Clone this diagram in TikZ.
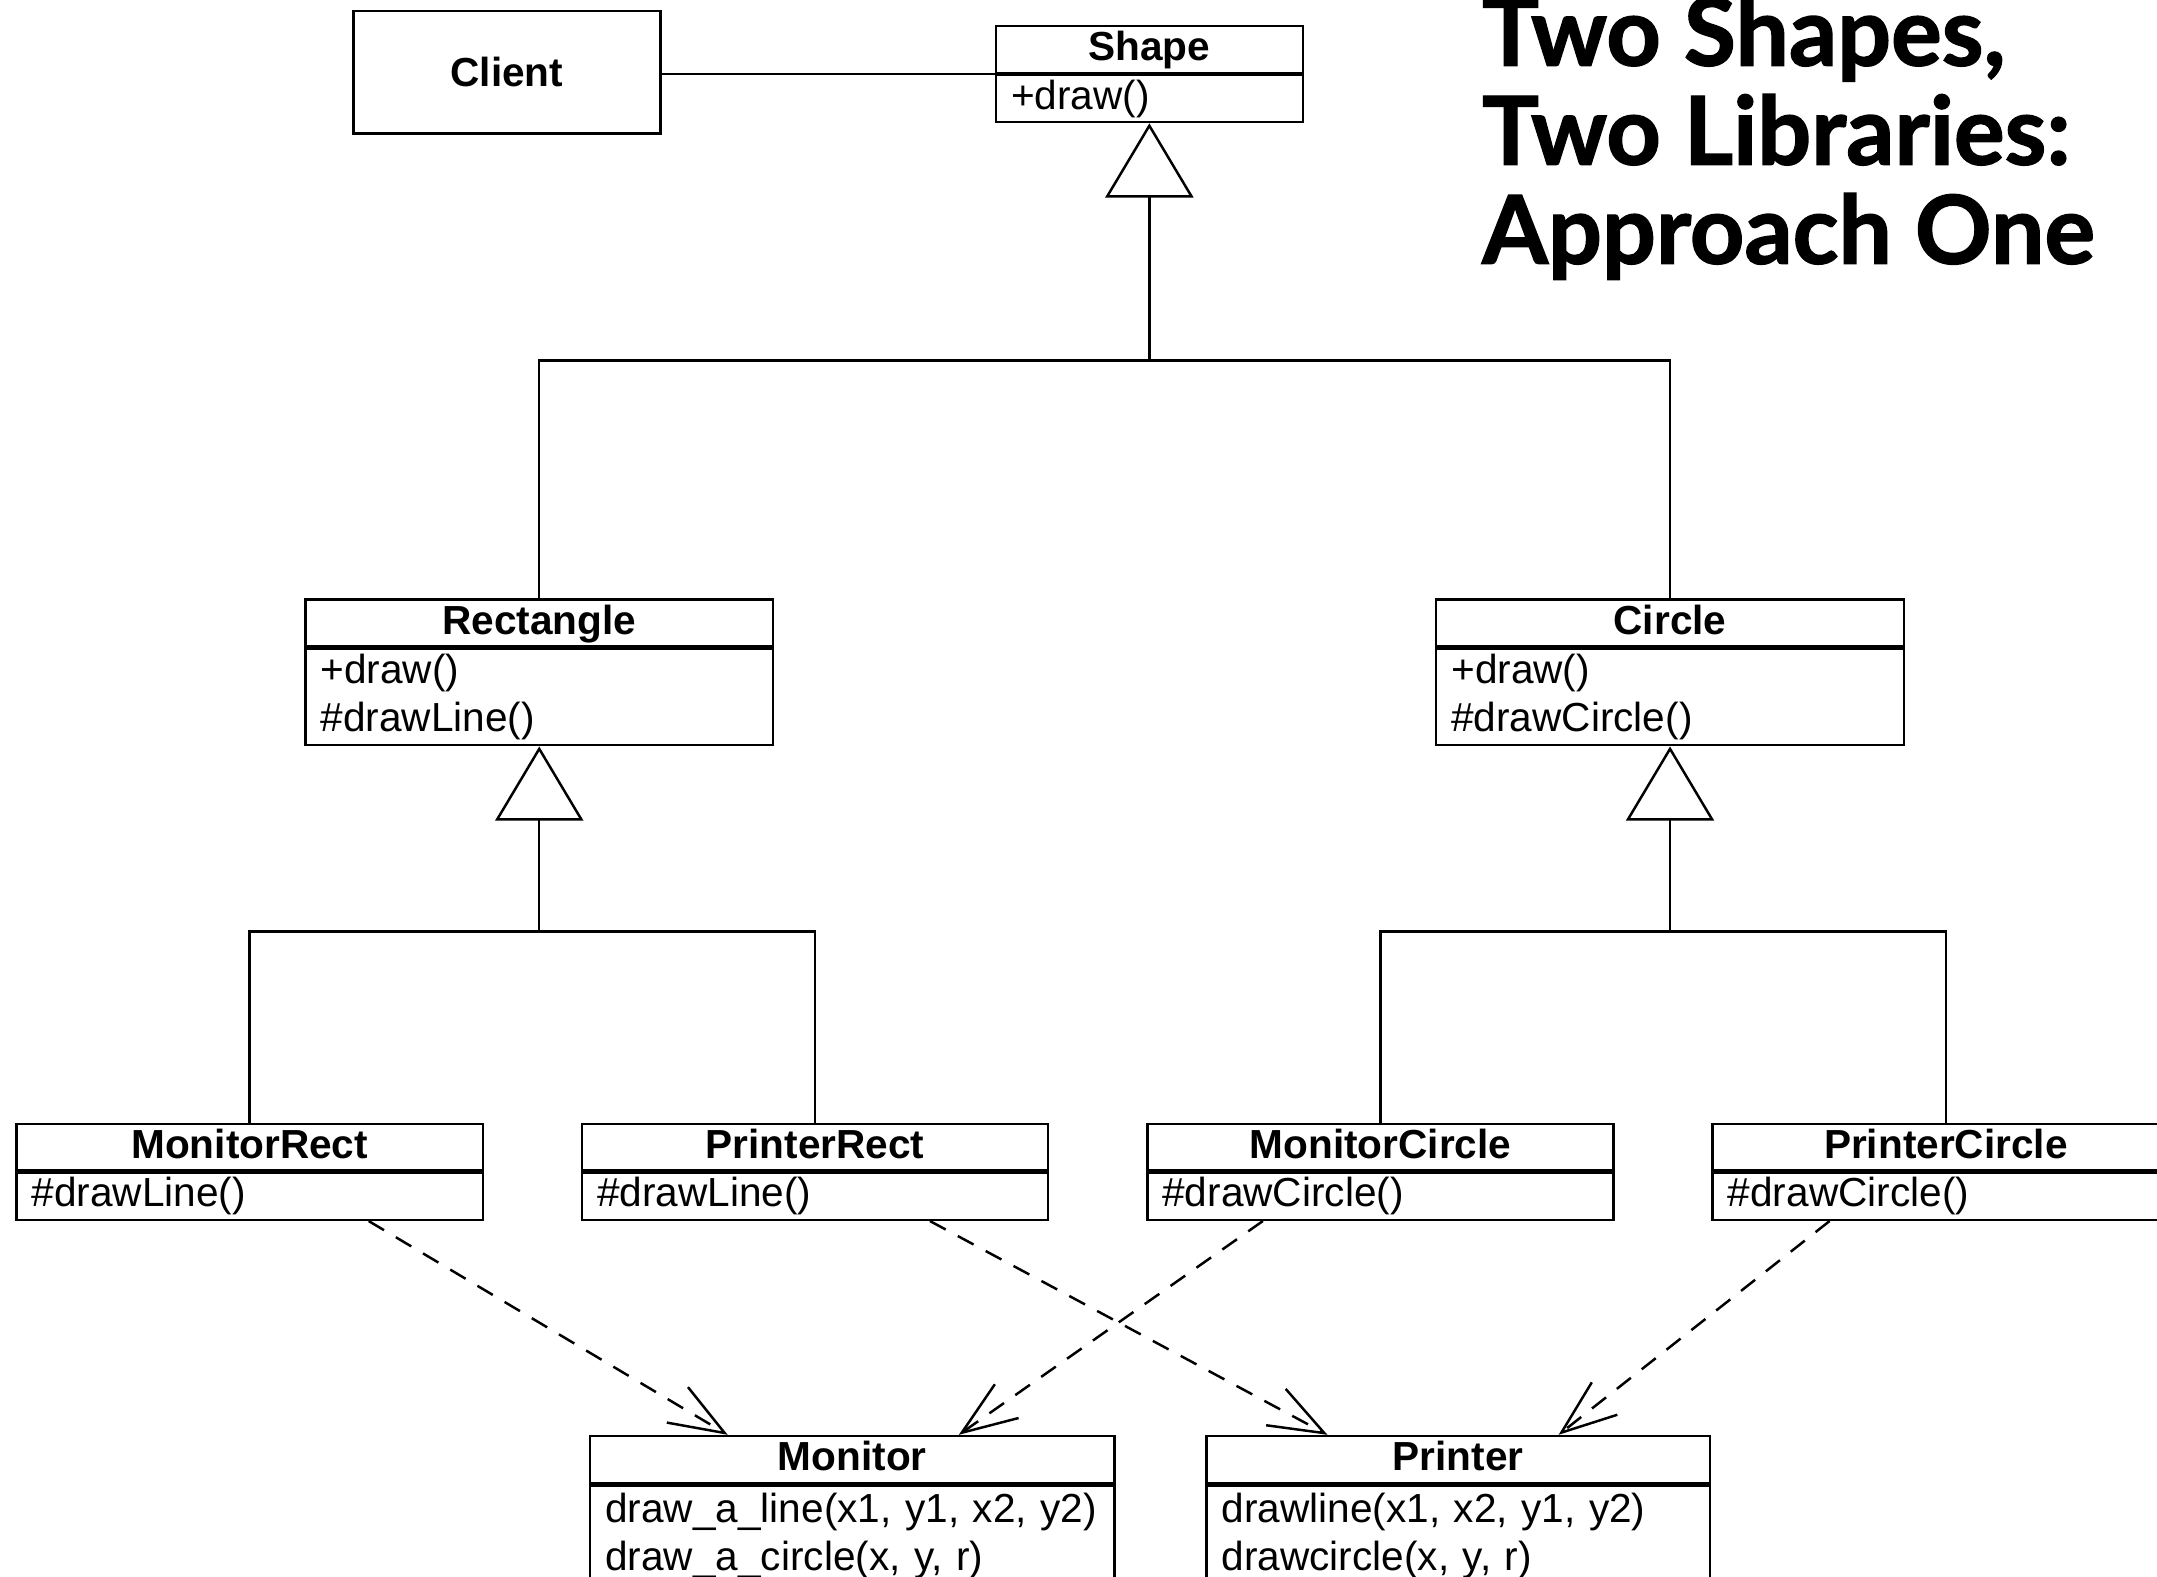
\documentclass[tikz,border=0pt]{standalone}
\usepackage{fontspec}
\setmainfont{Liberation Sans}
\newfontfamily\titlefont{Lato}[BoldFeatures={FakeBold=1.5}]
\usetikzlibrary{arrows.meta}
\usetikzlibrary{positioning}

\tikzset{
  classname/.style={draw, line width=0.9pt, anchor=north, inner sep=0pt,
    minimum width=#1, minimum height=17pt, text height=10.5pt, text depth=2.5pt,
    font=\fontsize{14.75}{17.5}\selectfont\bfseries},
  classops/.style={draw, line width=0.9pt, inner xsep=5.5pt, inner ysep=0pt,
    text width={#1-11pt}, align=left, minimum height=17pt,
    font=\fontsize{14.75}{17.5}\selectfont},
  inherit/.style={line width=0.9pt,
    -{Triangle[open,length=27pt,width=32pt,line width=0.9pt]}},
  depends/.style={line width=0.9pt, dash pattern=on 6.5pt off 5pt,
    -{Straight Barb[length=20pt,width=15pt,line width=0.9pt]}},
}

\begin{document}
\begin{tikzpicture}[x=0.5pt,y=-0.5pt]
      \useasboundingbox (0,0) rectangle (1568,1146);

      \node[anchor=north west, inner sep=0pt, align=left,
            font=\titlefont\bfseries\fontsize{34.5}{36}\selectfont] (title) at (1077,-4)
            {Two Shapes,\\Two Libraries:\\Approach One};

      \node[draw, line width=0.9pt, minimum width=111.5pt, minimum height=44.5pt,
            font=\fontsize{14.75}{17.5}\selectfont\bfseries] (client) at (368.5,52.5) {Client};

      \node[classname=111.5pt] (shape) at (835.5,18) {Shape};
      \node[classops=111.5pt, below=0pt of shape] (shapeops) {+draw()};
      \draw[line width=0.9pt] (client.east |- shape.south west) -- (shape.south west);

      % first level
      \node[classname=170pt] (rect) at (392,435) {Rectangle};
      \node[classops=170pt, minimum height=35pt, below=0pt of rect] (rectops) {+draw()\\\#drawLine()};
      \node[classname=170pt] (circ) at (1214,435) {Circle};
      \node[classops=170pt, minimum height=35pt, below=0pt of circ] (circops) {+draw()\\\#drawCircle()};

      \coordinate (shapejoin) at (835.5,262);
      \draw[line width=0.9pt] (rect.north) |- (shapejoin) -| (circ.north);
      \draw[inherit] (shapejoin) -- (shapeops.south);

      % second level
      \node[classname=169.5pt] (monrect) at (181.5,816) {MonitorRect};
      \node[classops=169.5pt, below=0pt of monrect] (monrectops) {\#drawLine()};
      \node[classname=169.5pt] (prnrect) at (592.5,816) {PrinterRect};
      \node[classops=169.5pt, below=0pt of prnrect] (prnrectops) {\#drawLine()};
      \node[classname=169.5pt] (moncirc) at (1003.5,816) {MonitorCircle};
      \node[classops=169.5pt, below=0pt of moncirc] (moncircops) {\#drawCircle()};
      \node[classname=169.5pt] (prncirc) at (1414.5,816) {PrinterCircle};
      \node[classops=169.5pt, below=0pt of prncirc] (prncircops) {\#drawCircle()};

      \coordinate (rectjoin) at (392,677);
      \draw[line width=0.9pt] (monrect.north) |- (rectjoin) -| (prnrect.north);
      \draw[inherit] (rectjoin) -- (rectops.south);

      \coordinate (circjoin) at (1214,677);
      \draw[line width=0.9pt] (moncirc.north) |- (circjoin) -| (prncirc.north);
      \draw[inherit] (circjoin) -- (circops.south);

      % libraries
      \node[classname=190.5pt] (monitor) at (619.5,1043) {Monitor};
      \node[classops=190.5pt, minimum height=37pt, below=0pt of monitor] (monitorops)
            {draw\_a\_line(x1, y1, x2, y2)\\draw\_a\_circle(x, y, r)};
      \node[classname=183pt] (printer) at (1060,1043) {Printer};
      \node[classops=183pt, minimum height=37pt, below=0pt of printer] (printerops)
            {drawline(x1, x2, y1, y2)\\drawcircle(x, y, r)};

      \draw[depends] ([xshift=43.25pt]monrectops.south) -- ([xshift=-45.25pt]monitor.north);
      \draw[depends] ([xshift=-42.75pt]moncircops.south) -- ([xshift=38.75pt]monitor.north);
      \draw[depends] ([xshift=41.75pt]prnrectops.south) -- ([xshift=-47.5pt]printer.north);
      \draw[depends] ([xshift=-42.25pt]prncircops.south) -- ([xshift=36.5pt]printer.north);
\end{tikzpicture}
\end{document}
